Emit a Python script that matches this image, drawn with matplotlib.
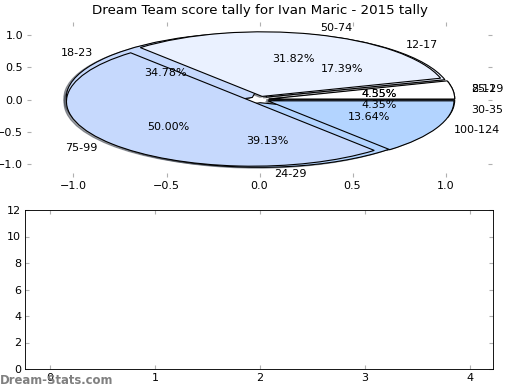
import matplotlib
matplotlib.use("Agg")
import matplotlib.pyplot as plt

title = "Dream Team score tally for Ivan Maric - 2015 tally"

# Pie 1 (drawn underneath)
labels_b = ["8-11", "12-17", "18-23", "24-29", "30-35"]
counts_b = [1, 4, 8, 9, 1]
# Pie 2 (drawn on top)
labels_a = ["25-29", "50-74", "75-99", "100-124"]
counts_a = [1, 7, 11, 3]

palette = ["#ffffff", "#eaf1ff", "#c6d9fd", "#b3d4ff", "#9fc4fb"]

bar_positions = [0, 1, 2, 3, 4]

plt.rcParams['font.family'] = ['DejaVu Sans']
plt.rcParams['font.size'] = 10

fig = plt.figure(figsize=(6.5, 4.875), dpi=80)
ax1 = fig.add_axes([27/520, 1-177/390, (492-27)/520, (177-22)/390])
ax2 = fig.add_axes([25/520, 1-369/390, (493-25)/520, (369-210)/390])

shadow = {'ox': -0.012, 'oy': -0.012, 'shade': 0.7}
for labels, counts in ((labels_b, counts_b), (labels_a, counts_a)):
    ax1.pie(counts, labels=labels, autopct='%1.2f%%', colors=palette[:len(counts)],
            explode=[0.05] * len(counts), shadow=shadow, frame=True,
            wedgeprops=dict(edgecolor='black', linewidth=1))
ax1.set_aspect('auto')
ax1.set_xlim(-1.25, 1.25)
ax1.set_ylim(-1.2, 1.2)
ax1.set_xticks([-1.0, -0.5, 0.0, 0.5, 1.0])
ax1.set_yticks([-1.0, -0.5, 0.0, 0.5, 1.0])
ax1.set_frame_on(False)
ax1.tick_params(direction='in', color='#b0b0b0', top=True, right=True, length=4, width=1)
ax1.set_title(title, fontsize=12, pad=7)

ax2.set_xlim(-0.24, 4.22)
ax2.set_ylim(0, 12)
ax2.set_xticks(bar_positions)
ax2.set_yticks(range(0, 13, 2))
ax2.tick_params(direction='in', color='#b0b0b0', top=True, right=True, length=4, width=1)
for s in ax2.spines.values():
    s.set_color('black')

fig.text(0.0, 0.008, "Dream-Stats.com", color='#808080', fontsize=10.5,
         fontweight='semibold', ha='left', va='bottom')

fig.savefig("out.png", dpi=80)
